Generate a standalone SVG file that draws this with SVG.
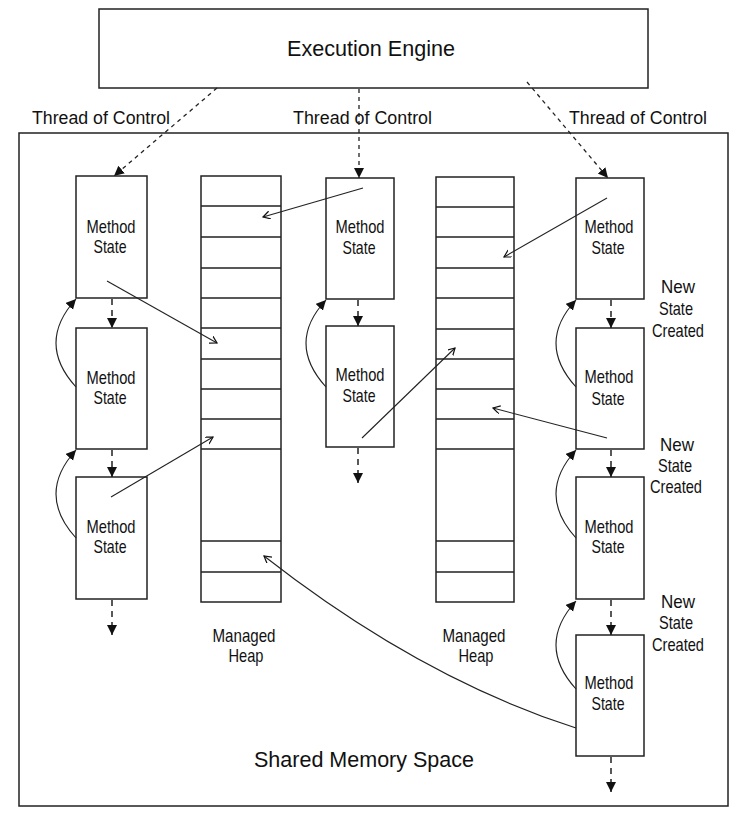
<svg xmlns="http://www.w3.org/2000/svg" width="754" height="822" viewBox="0 0 754 822">
<style>
  .box{fill:#fff;stroke:#222;stroke-width:1.5}
  .row{stroke:#222;stroke-width:1.5}
  .t{font-family:"Liberation Sans",Arial,sans-serif;fill:#111}
  .big{font-size:21.5px}
  .mid{font-size:17.5px}
  .sm{font-size:17.8px;text-anchor:middle}
  .dash{fill:none;stroke:#222;stroke-width:1.3;stroke-dasharray:4 4}
  .vd{fill:none;stroke:#222;stroke-width:1.5;stroke-dasharray:6 5}
  .ln{fill:none;stroke:#222;stroke-width:1.1}
</style>
<defs>
  <marker id="fa" markerUnits="userSpaceOnUse" markerWidth="12" markerHeight="12" refX="10" refY="5" orient="auto">
    <path d="M0,0 L10,5 L0,10 z" fill="#111" stroke="none"/>
  </marker>
  <marker id="oa" markerUnits="userSpaceOnUse" markerWidth="12" markerHeight="12" refX="7" refY="4" orient="auto">
    <path d="M0,0 L7,4 L0,8" fill="none" stroke="#111" stroke-width="1.2" stroke-dasharray="none"/>
  </marker>
</defs>

<g id="shared-memory">
  <rect class="box" x="19" y="133" width="709" height="673"/>
  <text class="t big" x="364" y="767" text-anchor="middle" textLength="220" lengthAdjust="spacingAndGlyphs">Shared Memory Space</text>
</g>

<g id="execution-engine">
  <rect class="box" x="99" y="9" width="549" height="79"/>
  <text class="t big" x="371" y="56" text-anchor="middle" textLength="168" lengthAdjust="spacingAndGlyphs">Execution Engine</text>
</g>

<g id="labels">
  <text class="t mid" x="32" y="124" textLength="138" lengthAdjust="spacingAndGlyphs">Thread of Control</text>
  <text class="t mid" x="293" y="124" textLength="139" lengthAdjust="spacingAndGlyphs">Thread of Control</text>
  <text class="t mid" x="569" y="124" textLength="138" lengthAdjust="spacingAndGlyphs">Thread of Control</text>
  <text class="t sm" x="678" y="293" textLength="34" lengthAdjust="spacingAndGlyphs">New</text>
  <text class="t sm" x="676" y="315" textLength="34" lengthAdjust="spacingAndGlyphs">State</text>
  <text class="t sm" x="678" y="337" textLength="52" lengthAdjust="spacingAndGlyphs">Created</text>
  <text class="t sm" x="677" y="451" textLength="34" lengthAdjust="spacingAndGlyphs">New</text>
  <text class="t sm" x="675" y="472" textLength="34" lengthAdjust="spacingAndGlyphs">State</text>
  <text class="t sm" x="676" y="493" textLength="52" lengthAdjust="spacingAndGlyphs">Created</text>
  <text class="t sm" x="678" y="608" textLength="34" lengthAdjust="spacingAndGlyphs">New</text>
  <text class="t sm" x="676" y="629" textLength="34" lengthAdjust="spacingAndGlyphs">State</text>
  <text class="t sm" x="678" y="651" textLength="52" lengthAdjust="spacingAndGlyphs">Created</text>
</g>

<g id="heap-1">
  <rect class="box" x="201" y="176" width="80" height="426"/>
  <path class="row" d="M201,206H281M201,237H281M201,268H281M201,298H281M201,328H281M201,359H281M201,389H281M201,419H281M201,449H281M201,541H281M201,572H281"/>
  <text class="t sm" x="244" y="642" textLength="63" lengthAdjust="spacingAndGlyphs">Managed</text>
  <text class="t sm" x="246" y="662" textLength="35" lengthAdjust="spacingAndGlyphs">Heap</text>
</g>

<g id="heap-2">
  <rect class="box" x="436" y="177" width="78" height="425"/>
  <path class="row" d="M436,207H514M436,237H514M436,268H514M436,298H514M436,329H514M436,359H514M436,389H514M436,419H514M436,449H514M436,541H514M436,572H514"/>
  <text class="t sm" x="474" y="642" textLength="63" lengthAdjust="spacingAndGlyphs">Managed</text>
  <text class="t sm" x="476" y="662" textLength="35" lengthAdjust="spacingAndGlyphs">Heap</text>
</g>

<g id="left-state-1">
  <rect class="box" x="76" y="176" width="71" height="122"/>
  <text class="t sm" x="111" y="233" textLength="49" lengthAdjust="spacingAndGlyphs">Method</text>
  <text class="t sm" x="110" y="253" textLength="33" lengthAdjust="spacingAndGlyphs">State</text>
</g>
<g id="left-state-2">
  <rect class="box" x="76" y="328" width="71" height="121"/>
  <text class="t sm" x="111" y="384" textLength="49" lengthAdjust="spacingAndGlyphs">Method</text>
  <text class="t sm" x="110" y="404" textLength="33" lengthAdjust="spacingAndGlyphs">State</text>
</g>
<g id="left-state-3">
  <rect class="box" x="76" y="477" width="71" height="122"/>
  <text class="t sm" x="111" y="533" textLength="49" lengthAdjust="spacingAndGlyphs">Method</text>
  <text class="t sm" x="110" y="553" textLength="33" lengthAdjust="spacingAndGlyphs">State</text>
</g>

<g id="middle-state-1">
  <rect class="box" x="326" y="178" width="68" height="121"/>
  <text class="t sm" x="360" y="233" textLength="49" lengthAdjust="spacingAndGlyphs">Method</text>
  <text class="t sm" x="359" y="254" textLength="33" lengthAdjust="spacingAndGlyphs">State</text>
</g>
<g id="middle-state-2">
  <rect class="box" x="326" y="326" width="68" height="121"/>
  <text class="t sm" x="360" y="381" textLength="49" lengthAdjust="spacingAndGlyphs">Method</text>
  <text class="t sm" x="359" y="402" textLength="33" lengthAdjust="spacingAndGlyphs">State</text>
</g>

<g id="right-state-1">
  <rect class="box" x="576" y="178" width="68" height="121"/>
  <text class="t sm" x="609" y="233" textLength="49" lengthAdjust="spacingAndGlyphs">Method</text>
  <text class="t sm" x="608" y="254" textLength="33" lengthAdjust="spacingAndGlyphs">State</text>
</g>
<g id="right-state-2">
  <rect class="box" x="576" y="328" width="68" height="121"/>
  <text class="t sm" x="609" y="383" textLength="49" lengthAdjust="spacingAndGlyphs">Method</text>
  <text class="t sm" x="608" y="405" textLength="33" lengthAdjust="spacingAndGlyphs">State</text>
</g>
<g id="right-state-3">
  <rect class="box" x="576" y="477" width="68" height="122"/>
  <text class="t sm" x="609" y="533" textLength="49" lengthAdjust="spacingAndGlyphs">Method</text>
  <text class="t sm" x="608" y="553" textLength="33" lengthAdjust="spacingAndGlyphs">State</text>
</g>
<g id="right-state-4">
  <rect class="box" x="576" y="635" width="68" height="121"/>
  <text class="t sm" x="609" y="689" textLength="49" lengthAdjust="spacingAndGlyphs">Method</text>
  <text class="t sm" x="608" y="710" textLength="33" lengthAdjust="spacingAndGlyphs">State</text>
</g>

<g id="connectors">
  <!-- threads of control -->
  <path class="dash" d="M217,88 L114,176" marker-end="url(#fa)"/>
  <path class="dash" d="M359,89 L359,178" marker-end="url(#fa)"/>
  <path class="dash" d="M527,82 L608,178" marker-end="url(#fa)"/>
  <!-- vertical calls -->
  <path class="vd" d="M112,299 L112,328" marker-end="url(#fa)"/>
  <path class="vd" d="M112,450 L112,477" marker-end="url(#fa)"/>
  <path class="vd" d="M112,600 L112,635" marker-end="url(#fa)"/>
  <path class="vd" d="M358,300 L358,326" marker-end="url(#fa)"/>
  <path class="vd" d="M358,448 L358,483" marker-end="url(#fa)"/>
  <path class="vd" d="M611,300 L611,328" marker-end="url(#fa)"/>
  <path class="vd" d="M611,450 L611,477" marker-end="url(#fa)"/>
  <path class="vd" d="M611,600 L611,635" marker-end="url(#fa)"/>
  <path class="vd" d="M611,757 L611,792" marker-end="url(#fa)"/>
  <!-- returns -->
  <path class="ln" d="M76,387 Q36,343 76,299" marker-end="url(#fa)"/>
  <path class="ln" d="M76,538 Q36,494 76,450" marker-end="url(#fa)"/>
  <path class="ln" d="M326,387 Q286,343 326,300" marker-end="url(#fa)"/>
  <path class="ln" d="M576,387 Q536,343 576,300" marker-end="url(#fa)"/>
  <path class="ln" d="M576,538 Q536,494 576,450" marker-end="url(#fa)"/>
  <path class="ln" d="M576,689 Q536,645 576,601" marker-end="url(#fa)"/>
  <!-- heap references -->
  <path class="ln" d="M107,281 L217,343" marker-end="url(#oa)"/>
  <path class="ln" d="M111,497 L213,437" marker-end="url(#oa)"/>
  <path class="ln" d="M363,188 L263,217" marker-end="url(#oa)"/>
  <path class="ln" d="M362,438 L455,348" marker-end="url(#oa)"/>
  <path class="ln" d="M607,198 L504,257" marker-end="url(#oa)"/>
  <path class="ln" d="M607,438 L493,408" marker-end="url(#oa)"/>
  <path class="ln" d="M576,728 Q420,678 264,556" marker-end="url(#oa)"/>
</g>
</svg>
